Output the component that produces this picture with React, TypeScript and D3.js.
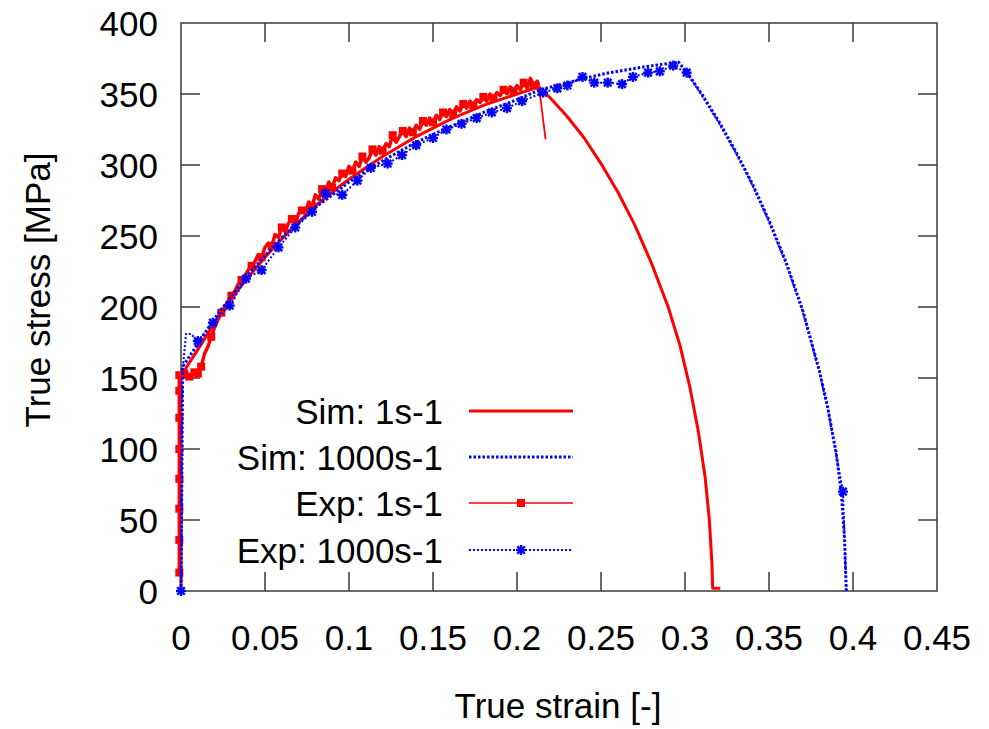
import React from "react";
import * as d3 from "d3";

const xTicks = [0, 0.05, 0.1, 0.15, 0.2, 0.25, 0.3, 0.35, 0.4, 0.45];
const xTickLabels = ["0", "0.05", "0.1", "0.15", "0.2", "0.25", "0.3", "0.35", "0.4", "0.45"];
const yTicks = [0, 50, 100, 150, 200, 250, 300, 350, 400];

// Sim 1s-1 [strain, stress]
const sim1: [number, number][] = [
  [0, 0], [0, 150], [0.003, 157], [0.01, 170], [0.02, 189], [0.03, 206], [0.04, 221], [0.05, 235],
  [0.06, 248], [0.07, 260], [0.08, 271], [0.09, 281], [0.1, 290], [0.11, 298], [0.12, 306],
  [0.13, 313], [0.14, 320], [0.15, 326], [0.16, 332], [0.17, 337], [0.18, 342], [0.19, 346],
  [0.2, 350], [0.213, 355], [0.22, 347], [0.23, 334], [0.24, 319], [0.25, 301], [0.26, 281],
  [0.27, 258], [0.28, 231], [0.29, 200], [0.297, 173], [0.303, 143], [0.308, 112], [0.312, 80],
  [0.3145, 50], [0.316, 20], [0.3165, 2], [0.321, 2],
];

// Sim 1000s-1
const sim1000: [number, number][] = [
  [0, 0], [0.001, 158], [0.01, 174], [0.02, 192], [0.04, 223], [0.06, 249], [0.08, 270],
  [0.1, 288], [0.12, 303], [0.14, 316], [0.16, 327], [0.18, 337], [0.2, 346], [0.2137, 353],
  [0.24, 361], [0.255, 365], [0.275, 369], [0.296, 372.5], [0.3, 367], [0.31, 350], [0.32, 331],
  [0.33, 310], [0.34, 287], [0.35, 261], [0.36, 232], [0.37, 198], [0.38, 155], [0.385, 129],
  [0.39, 97], [0.393, 70], [0.395, 36], [0.396, 0],
];

// Exp 1s-1 (noisy measurement)
const exp1: [number, number][] = [
  [-0.001, 13], [-0.001, 36], [-0.001, 58], [-0.001, 79], [-0.001, 100], [-0.001, 122], [-0.001, 141],
  [-0.001, 152], [0.002, 153], [0.005, 151], [0.008, 154], [0.01, 153],
  [0.012, 158], [0.014, 167], [0.016, 172], [0.018, 179], [0.02, 186], [0.022, 191], [0.024, 196],
  [0.026, 200], [0.028, 204], [0.03, 208], [0.032, 211], [0.034, 216], [0.036, 219], [0.038, 222],
  [0.04, 226], [0.042, 229], [0.044, 232], [0.046, 237], [0.048, 235], [0.05, 242], [0.052, 245],
  [0.054, 243], [0.056, 251], [0.058, 249], [0.06, 256], [0.062, 253], [0.064, 259], [0.066, 262],
  [0.068, 258], [0.07, 266], [0.072, 268], [0.074, 266], [0.076, 274], [0.078, 271], [0.08, 279],
  [0.082, 276], [0.084, 283], [0.086, 281], [0.088, 288], [0.09, 284], [0.092, 291], [0.094, 289],
  [0.096, 294], [0.098, 292], [0.1, 299], [0.102, 296], [0.104, 302], [0.106, 299], [0.108, 306],
  [0.11, 302], [0.112, 305], [0.114, 311], [0.116, 307], [0.118, 313], [0.12, 310], [0.122, 315],
  [0.124, 313], [0.126, 321], [0.128, 316], [0.13, 320], [0.132, 324], [0.134, 320], [0.136, 326],
  [0.138, 323], [0.14, 328], [0.142, 325], [0.144, 331], [0.146, 328], [0.148, 333], [0.15, 330],
  [0.152, 335], [0.154, 332], [0.156, 337], [0.158, 334], [0.16, 339], [0.162, 336], [0.164, 341],
  [0.166, 338], [0.168, 343], [0.17, 340], [0.172, 345], [0.174, 342], [0.176, 346], [0.178, 344],
  [0.18, 348], [0.182, 345], [0.184, 350], [0.186, 347], [0.188, 351], [0.19, 349], [0.192, 353],
  [0.194, 350], [0.196, 355], [0.198, 352], [0.2, 356], [0.202, 353], [0.204, 358], [0.206, 354],
  [0.208, 361], [0.21, 356], [0.212, 359], [0.213, 356], [0.217, 318],
];

// Exp 1000s-1
const exp1000: [number, number][] = [
  [0, 0], [0.0005, 150], [0.003, 181], [0.006, 181], [0.01, 176], [0.019, 189], [0.029, 201],
  [0.0387, 220], [0.048, 226], [0.058, 242], [0.068, 256], [0.078, 267], [0.086, 280], [0.096, 279],
  [0.105, 289], [0.113, 298], [0.123, 301], [0.1315, 307], [0.14, 314], [0.15, 319], [0.158, 325],
  [0.167, 329], [0.176, 333], [0.185, 337], [0.194, 340], [0.203, 345], [0.2155, 351], [0.224, 354],
  [0.23, 356], [0.239, 362], [0.246, 358], [0.254, 358], [0.2625, 357], [0.269, 362], [0.278, 365],
  [0.285, 366], [0.293, 370], [0.301, 365], [0.31, 349], [0.32, 330], [0.33, 309], [0.34, 286],
  [0.35, 260], [0.36, 231], [0.37, 197], [0.38, 154], [0.385, 128], [0.39, 96], [0.394, 70],
  [0.396, 0],
];
// points of Exp 1000s-1 that carry a marker
const exp1000Marked = [0, 4, 5, 6, 7, 8, 9, 10, 11, 12, 13, 14, 15, 16, 17, 18, 19, 20, 21, 22, 23, 24,
  25, 26, 27, 28, 29, 30, 31, 32, 33, 34, 35, 36, 37, 48];

const legendLabels = ["Sim: 1s-1", "Sim: 1000s-1", "Exp: 1s-1", "Exp: 1000s-1"];

const RED = "#ff0000";
const BLUE = "#0000ff";
const FONT = "'Liberation Sans', Arial, Helvetica, sans-serif";

function Star({ x, y }: { x: number; y: number }) {
  const r = 5;
  const d = r * 0.75;
  return (
    <g stroke={BLUE} strokeWidth={2.4}>
      <line x1={x - r} y1={y} x2={x + r} y2={y} />
      <line x1={x} y1={y - r} x2={x} y2={y + r} />
      <line x1={x - d} y1={y - d} x2={x + d} y2={y + d} />
      <line x1={x - d} y1={y + d} x2={x + d} y2={y - d} />
    </g>
  );
}

export default function App() {
  const W = 989, H = 729;
  const left = 181, right = 937, top = 23, bottom = 591;
  const x = d3.scaleLinear().domain([0, 0.45]).range([left, right]);
  const y = d3.scaleLinear().domain([0, 400]).range([bottom, top]);
  const line = d3.line<[number, number]>().x((d) => x(d[0])).y((d) => y(d[1]));
  const tickLen = 19;
  const axisColor = "#3a3a3a";

  const legendRows = [411, 457, 503, 550];
  const lx1 = 469, lx2 = 573, lmid = 521;

  const exp1Marked = exp1.filter((_, i) => i < 12 || (i % 3 === 0 && i < exp1.length - 1));
  const exp1Curve = exp1.slice(0, exp1.length - 1);
  const exp1Tail = exp1.slice(exp1.length - 2);

  return (
    <div style={{ position: "absolute", left: 0, top: 0 }}>
      <svg width={W} height={H} style={{ display: "block", background: "#fff" }} fontFamily={FONT}>
        <rect x={0} y={0} width={W} height={H} fill="#fff" />
        {/* ticks */}
        {xTicks.map((t, i) => (
          <g key={"xt" + i}>
            {i > 0 && i < xTicks.length - 1 && (
              <>
                <line x1={x(t)} x2={x(t)} y1={bottom} y2={bottom - tickLen} stroke={axisColor} strokeWidth={1.5} />
                <line x1={x(t)} x2={x(t)} y1={top} y2={top + tickLen} stroke={axisColor} strokeWidth={1.5} />
              </>
            )}
            <text x={x(t)} y={650} textAnchor="middle" fontSize={35} fill="#000">
              {xTickLabels[i]}
            </text>
          </g>
        ))}
        {yTicks.map((t, i) => (
          <g key={"yt" + i}>
            {i > 0 && i < yTicks.length - 1 && (
              <>
                <line x1={left} x2={left + tickLen} y1={y(t)} y2={y(t)} stroke={axisColor} strokeWidth={1.5} />
                <line x1={right} x2={right - tickLen} y1={y(t)} y2={y(t)} stroke={axisColor} strokeWidth={1.5} />
              </>
            )}
            <text x={158} y={y(t) + 12.5} textAnchor="end" fontSize={35} fill="#000">
              {t}
            </text>
          </g>
        ))}
        <rect x={left} y={top} width={right - left} height={bottom - top} fill="none" stroke={axisColor} strokeWidth={1.5} />

        {/* series */}
        <path d={line(sim1) || ""} fill="none" stroke={RED} strokeWidth={3} strokeLinejoin="round" />
        <path d={line(exp1Curve) || ""} fill="none" stroke={RED} strokeWidth={3.5} strokeLinejoin="round" />
        <path d={line(exp1Tail) || ""} fill="none" stroke={RED} strokeWidth={1.8} />
        {exp1Marked.map((d, i) => (
          <rect key={"s" + i} x={x(d[0]) - 4} y={y(d[1]) - 4} width={8} height={8} fill={RED} />
        ))}
        <path d={line(sim1000) || ""} fill="none" stroke={BLUE} strokeWidth={3} strokeDasharray="2.5,2" />
        <path d={line(exp1000) || ""} fill="none" stroke={BLUE} strokeWidth={2} strokeDasharray="2,2" />
        {exp1000Marked.map((idx) => (
          <Star key={"st" + idx} x={x(exp1000[idx][0])} y={y(exp1000[idx][1])} />
        ))}

        {/* legend */}
        {legendLabels.map((l, i) => (
          <text key={"lg" + i} x={443} y={legendRows[i] + 12.5} textAnchor="end" fontSize={35} fill="#000">
            {l}
          </text>
        ))}
        <line x1={lx1} x2={lx2} y1={legendRows[0]} y2={legendRows[0]} stroke={RED} strokeWidth={3} />
        <line x1={lx1} x2={lx2} y1={legendRows[1]} y2={legendRows[1]} stroke={BLUE} strokeWidth={3} strokeDasharray="2.5,2" />
        <line x1={lx1} x2={lx2} y1={legendRows[2]} y2={legendRows[2]} stroke={RED} strokeWidth={1.6} />
        <rect x={lmid - 4} y={legendRows[2] - 4} width={8} height={8} fill={RED} />
        <line x1={lx1} x2={lx2} y1={legendRows[3]} y2={legendRows[3]} stroke={BLUE} strokeWidth={2} strokeDasharray="2,2" />
        <Star x={lmid} y={legendRows[3]} />

        {/* axis titles */}
        <text x={558} y={718} textAnchor="middle" fontSize={35} fill="#000">
          True strain [-]
        </text>
        <text transform={`translate(50, 290) rotate(-90)`} textAnchor="middle" fontSize={35} fill="#000">
          True stress [MPa]
        </text>
      </svg>
    </div>
  );
}
